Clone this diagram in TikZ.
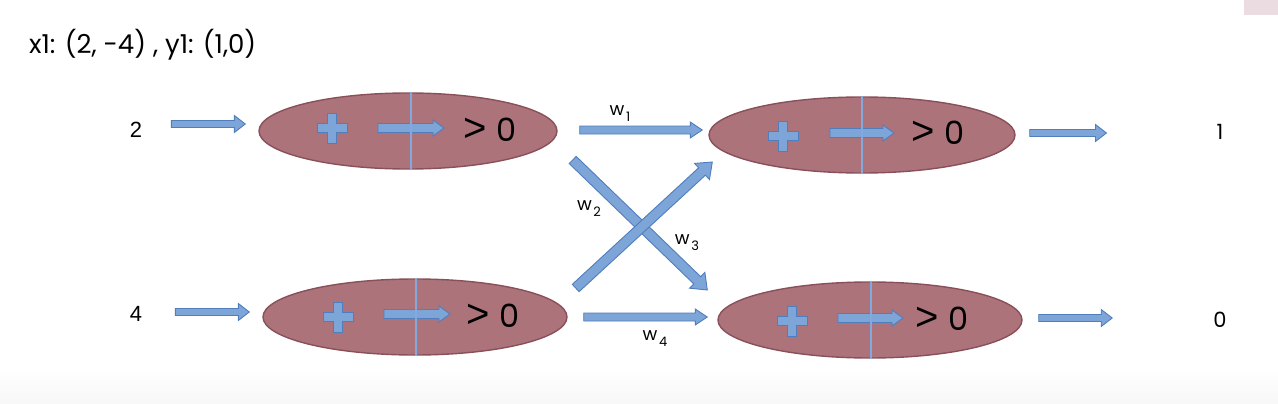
\documentclass[tikz,border=0pt]{standalone}
\usepackage{fontspec}
\setmainfont{Poppins}
\newfontfamily\arialf{Liberation Sans}
\usetikzlibrary{calc,shapes.geometric}
\definecolor{arrfill}{RGB}{125,165,215}
\definecolor{arrline}{RGB}{80,125,188}
\definecolor{ellfill}{RGB}{173,115,123}
\definecolor{ellline}{RGB}{138,80,90}
\definecolor{vline}{RGB}{130,168,222}
\definecolor{pinkbox}{RGB}{234,220,224}
\tikzset{
  blk/.style n args={3}{
    to path={let \p1=(\tikztostart), \p2=(\tikztotarget),
      \n1={atan2(\y2-\y1,\x2-\x1)} in
      ($(\p1)+(\n1+90:#1)$) -- ($(\p2)+(\n1+180:#3)+(\n1+90:#1)$)
      -- ($(\p2)+(\n1+180:#3)+(\n1+90:#2)$) -- (\p2)
      -- ($(\p2)+(\n1+180:#3)+(\n1-90:#2)$) -- ($(\p2)+(\n1+180:#3)+(\n1-90:#1)$)
      -- ($(\p1)+(\n1-90:#1)$) -- cycle},
    draw=arrline, fill=arrfill, line width=0.9pt, line join=miter},
  neuron/.style={ellipse, draw=ellline, fill=ellfill, line width=1.4pt,
    minimum width=300pt, minimum height=76pt, inner sep=0pt},
  divline/.style={draw=vline, line width=1.1pt},
  gtz/.style={inner sep=0pt},
  inlab/.style={font=\arialf\fontsize{22}{22}\selectfont, inner sep=0pt},
  outlab/.style={font=\fontsize{21}{21}\selectfont, inner sep=0pt},
  wlab/.style={inner sep=0pt},
  plusmark/.pic={\path[draw=arrline, fill=arrfill, line width=0.9pt]
    (-4.5,15) -- (4.5,15) -- (4.5,4.5) -- (15,4.5) -- (15,-4.5) -- (4.5,-4.5)
    -- (4.5,-15) -- (-4.5,-15) -- (-4.5,-4.5) -- (-15,-4.5) -- (-15,4.5)
    -- (-4.5,4.5) -- cycle;}
}
\newcommand{\wsub}[1]{{\fontsize{18}{18}\selectfont w}\,\raisebox{-6pt}{\fontsize{13}{13}\selectfont #1}}
\newcommand{\gtzero}{{\arialf\fontsize{40}{40}\selectfont >}\hspace{10pt}{\fontsize{32}{32}\selectfont 0}}
\begin{document}
\begin{tikzpicture}[x=1pt,y=1pt]
\useasboundingbox (0,0) rectangle (1278,-404);
\fill[white] (0,0) rectangle (1278,-404);
\shade[top color=white, bottom color=black!3] (0,-368) rectangle (1278,-404);
\fill[pinkbox] (1244,0) rectangle (1278,-15);

% title
\node[anchor=west, inner sep=0pt, font=\fontsize{26}{26}\selectfont] (title) at (29,-45) {x1: (2, -4) , y1: (1,0)};

% neurons
\node[neuron, minimum width=298pt] (e1) at (408,-131) {};
\node[neuron, minimum width=306pt] (e2) at (862,-135) {};
\node[neuron, minimum width=304pt] (e3) at (415,-317) {};
\node[neuron, minimum width=304pt] (e4) at (870,-320) {};

% neuron contents
\pic at (332,-128) {plusmark};
\coordinate (a1s) at (378,-128); \coordinate (a1e) at (444,-128);
\draw[blk={4.5pt}{8pt}{11pt}] (a1s) to (a1e);
\draw[divline] ([xshift=3pt]e1.north) -- ([xshift=3pt]e1.south);
\node[gtz] (g1) at (490,-130) {\gtzero};

\pic at (783,-136) {plusmark};
\coordinate (a2s) at (830,-133); \coordinate (a2e) at (894,-133);
\draw[blk={4.5pt}{8pt}{11pt}] (a2s) to (a2e);
\draw[divline] ([xshift=0pt]e2.north) -- ([xshift=0pt]e2.south);
\node[gtz] (g2) at (938,-133) {\gtzero};

\pic at (338,-317) {plusmark};
\coordinate (a3s) at (384,-314); \coordinate (a3e) at (450,-314);
\draw[blk={4.5pt}{8pt}{11pt}] (a3s) to (a3e);
\draw[divline] ([xshift=1pt]e3.north) -- ([xshift=1pt]e3.south);
\node[gtz] (g3) at (493,-316) {\gtzero};

\pic at (792,-321) {plusmark};
\coordinate (a4s) at (838,-318); \coordinate (a4e) at (903,-318);
\draw[blk={4.5pt}{8pt}{11pt}] (a4s) to (a4e);
\draw[divline] ([xshift=1pt]e4.north) -- ([xshift=1pt]e4.south);
\node[gtz] (g4) at (942,-319) {\gtzero};

% inputs
\node[inlab] (i1) at (136,-130) {2};
\node[inlab] (i2) at (136,-314) {4};
\draw[blk={3.5pt}{8.5pt}{11pt}] ([xshift=29pt,yshift=6pt]i1.east) to ([xshift=-13pt,yshift=7pt]e1.west);
\draw[blk={3.5pt}{8.5pt}{11pt}] ([xshift=33pt,yshift=2pt]i2.east) to ([xshift=-13pt,yshift=5pt]e3.west);

% outputs
\node[outlab] (o1) at (1220,-132) {1};
\node[outlab] (o2) at (1220,-320) {0};
\draw[blk={3.5pt}{8.5pt}{11pt}] ([xshift=14pt,yshift=2pt]e2.east) to ([xshift=-110pt,yshift=-1pt]o1.west);
\draw[blk={3.5pt}{8.5pt}{11pt}] ([xshift=16pt,yshift=2pt]e4.east) to ([xshift=-101pt,yshift=2pt]o2.west);

% weights
\draw[blk={4pt}{8pt}{12pt}] ([xshift=22pt,yshift=1pt]e1.east) to ([xshift=-6pt,yshift=5pt]e2.west);
\draw[blk={5pt}{11pt}{14pt}] ([xshift=15pt,yshift=-29pt]e1.east) to ([xshift=-10pt,yshift=30pt]e4.west);
\draw[blk={5pt}{11pt}{14pt}] ([xshift=8pt,yshift=29pt]e3.east) to ([xshift=4pt,yshift=-27pt]e2.west);
\draw[blk={4pt}{8pt}{12pt}] ([xshift=16pt,yshift=0pt]e3.east) to ([xshift=-10pt,yshift=3pt]e4.west);

\node[wlab] (w1) at (620,-114) {\wsub{1}};
\node[wlab] (w2) at (589,-209) {\wsub{2}};
\node[wlab] (w3) at (687,-243) {\wsub{3}};
\node[wlab] (w4) at (655,-339) {\wsub{4}};
\end{tikzpicture}
\end{document}
